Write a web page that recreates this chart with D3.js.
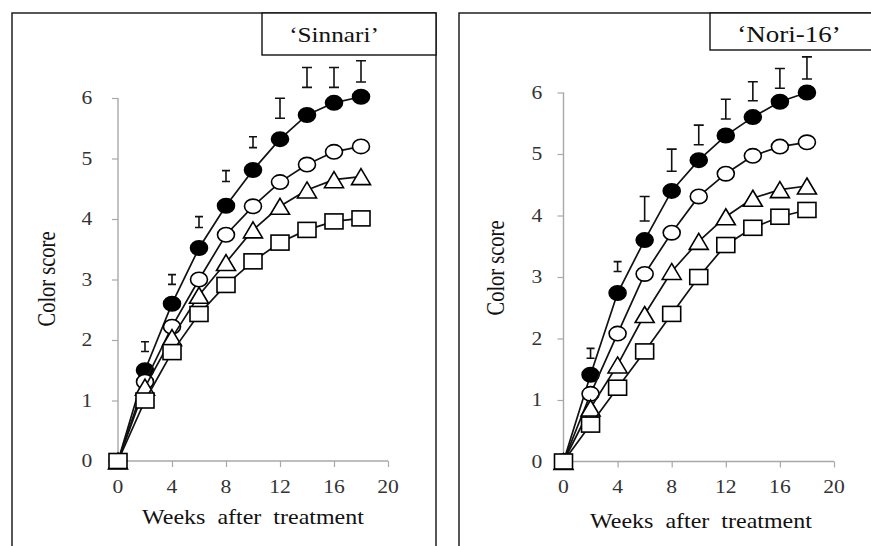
<!DOCTYPE html>
<html><head><meta charset="utf-8">
<script src="https://cdn.jsdelivr.net/npm/d3@7/dist/d3.min.js"></script>
<style>
html,body{margin:0;padding:0;background:#fff;}
svg{display:block;}
</style></head>
<body>
<svg id="chart" width="871" height="546" font-family="'Liberation Serif', 'Times New Roman', 'DejaVu Serif', serif"></svg>
<script>
// ---------------- data ----------------
const weeks = [0, 2, 4, 6, 8, 10, 12, 14, 16, 18];
const yTicks = [0, 1, 2, 3, 4, 5, 6];
const xTicks = [0, 4, 8, 12, 16, 20];
const panelNames = ["\u2018Sinnari\u2019", "\u2018Nori-16\u2019"];
const xTitle = "Weeks after treatment";
const yTitle = "Color score";

// 'Sinnari'
const sinFilled = [0, 1.50, 2.60, 3.52, 4.22, 4.81, 5.32, 5.72, 5.92, 6.02];
const sinOpen   = [0, 1.31, 2.22, 3.00, 3.74, 4.21, 4.61, 4.90, 5.11, 5.20];
const sinTri    = [0, 1.22, 2.04, 2.74, 3.28, 3.82, 4.21, 4.48, 4.65, 4.70];
const sinSq     = [0, 1.00, 1.80, 2.43, 2.91, 3.30, 3.61, 3.82, 3.96, 4.01];
const sinErrMid = [null, 1.89, 3.00, 3.95, 4.71, 5.27, 5.83, 6.34, 6.34, 6.44];
const sinErrHalf= [null, 0.08, 0.08, 0.09, 0.09, 0.09, 0.165, 0.165, 0.165, 0.175];

// 'Nori-16'
const norFilled = [0, 1.41, 2.74, 3.60, 4.40, 4.90, 5.30, 5.60, 5.85, 6.00];
const norOpen   = [0, 1.10, 2.08, 3.05, 3.72, 4.31, 4.68, 4.97, 5.12, 5.19];
const norTri    = [0, 0.87, 1.57, 2.39, 3.09, 3.58, 3.98, 4.28, 4.42, 4.48];
const norSq     = [0, 0.60, 1.20, 1.79, 2.40, 3.00, 3.52, 3.80, 3.98, 4.09];
const norErrMid = [null, 1.76, 3.17, 4.11, 4.90, 5.31, 5.73, 6.02, 6.23, 6.40];
const norErrHalf= [null, 0.08, 0.08, 0.20, 0.18, 0.16, 0.16, 0.155, 0.16, 0.18];

// ---------------- layout / style ----------------
const STRETCH = 1.2; // horizontal stretch of the original picture
const FONT = "'Liberation Serif', 'Times New Roman', 'DejaVu Serif', serif";
const panels = [
  { name: panelNames[0], series: [sinFilled, sinOpen, sinTri, sinSq], errMid: sinErrMid, errHalf: sinErrHalf,
    frame: {x0: 12, y0: 13, x1: 436, y1: 560},
    box: {x0: 262, y0: 13, x1: 436, y1: 55}, nameX: 334, nameY: 42, nameSize: 21,
    xr: [118, 388], yr: [461, 98], yLabX: 87, xLabY: 493, xTitleX: 253, xTitleY: 524, yTitleX: 55, yTitleY: 279 },
  { name: panelNames[1], series: [norFilled, norOpen, norTri, norSq], errMid: norErrMid, errHalf: norErrHalf,
    frame: {x0: 459, y0: 13, x1: 880, y1: 560},
    box: {x0: 710, y0: 13, x1: 880, y1: 50}, nameX: 789, nameY: 42, nameSize: 22.5,
    xr: [563.5, 834], yr: [461.5, 92.5], yLabX: 537, xLabY: 493, xTitleX: 701, xTitleY: 528, yTitleX: 504, yTitleY: 268 }
];
const markerTypes = ["filled", "open", "triangle", "square"];

const svg = d3.select("#chart");

function stretchedText(g, x, y, str, size, anchor, extraTransform) {
  return g.append("text")
    .attr("transform", `translate(${x},${y}) ${extraTransform || ""} scale(${STRETCH},1)`)
    .attr("text-anchor", anchor)
    .attr("font-family", FONT)
    .attr("font-size", size)
    .attr("fill", "#111")
    .text(str);
}

panels.forEach(p => {
  const g = svg.append("g");
  const x = d3.scaleLinear().domain([0, 20]).range(p.xr);
  const y = d3.scaleLinear().domain([0, 6]).range(p.yr);

  // frame
  g.append("rect").attr("x", p.frame.x0).attr("y", p.frame.y0)
    .attr("width", p.frame.x1 - p.frame.x0).attr("height", p.frame.y1 - p.frame.y0)
    .attr("fill", "none").attr("stroke", "#111").attr("stroke-width", 1.4);
  // name box
  g.append("rect").attr("x", p.box.x0).attr("y", p.box.y0)
    .attr("width", p.box.x1 - p.box.x0).attr("height", p.box.y1 - p.box.y0)
    .attr("fill", "#fff").attr("stroke", "#111").attr("stroke-width", 1.4);
  stretchedText(g, p.nameX, p.nameY, p.name, p.nameSize, "middle");

  // axes (lines & ticks via d3.axis, labels drawn stretched)
  const yAxis = g.append("g").attr("transform", `translate(${x(0)},0)`)
    .call(d3.axisLeft(y).tickValues(yTicks).tickSize(6).tickFormat(""));
  const xAxis = g.append("g").attr("transform", `translate(0,${y(0)})`)
    .call(d3.axisBottom(x).tickValues(xTicks).tickSize(6).tickFormat(""));
  [yAxis, xAxis].forEach(a => {
    a.select(".domain").attr("stroke", "#a8a8a8").attr("stroke-width", 1.4);
    a.selectAll(".tick line").attr("stroke", "#a8a8a8").attr("stroke-width", 1.2);
  });
  yAxis.select(".domain").attr("d", `M0,${y(0)}V${y(6)}`);
  xAxis.select(".domain").attr("d", `M${x(0)},0H${x(20)}`);

  yTicks.forEach(t => stretchedText(g, p.yLabX, y(t) + 6, String(t), 18, "middle").attr("fill", "#333"));
  xTicks.forEach(t => stretchedText(g, x(t), p.xLabY, String(t), 18, "middle").attr("fill", "#333"));

  stretchedText(g, p.xTitleX, p.xTitleY, xTitle, 20, "middle").attr("word-spacing", 5);
  g.append("text")
    .attr("transform", `translate(${p.yTitleX},${p.yTitleY}) scale(${STRETCH},1) rotate(-90)`)
    .attr("text-anchor", "middle").attr("font-family", FONT).attr("font-size", 20.5).attr("fill", "#111")
    .text(yTitle);

  // error bars (LSD)
  const eg = g.append("g").attr("stroke", "#111").attr("stroke-width", 1.6).attr("fill", "none");
  weeks.forEach((w, i) => {
    if (p.errMid[i] == null) return;
    const top = y(p.errMid[i] + p.errHalf[i]);
    const bot = y(p.errMid[i] - p.errHalf[i]);
    const cw = p.errHalf[i] > 0.12 ? 5 : 4;
    const cx = x(w);
    eg.append("path").attr("d", `M${cx},${top}V${bot}M${cx - cw},${top}H${cx + cw}M${cx - cw},${bot}H${cx + cw}`);
  });

  // series lines + markers
  const line = d3.line().x((d, i) => x(weeks[i])).y(d => y(d));
  p.series.forEach((vals, si) => {
    const type = markerTypes[si];
    g.append("path").attr("d", line(vals)).attr("fill", "none")
      .attr("stroke", "#111").attr("stroke-width", 1.7);
    const mg = g.append("g");
    vals.forEach((v, i) => {
      const cx = x(weeks[i]), cy = y(v);
      if (type === "filled" || type === "open") {
        mg.append("ellipse").attr("cx", cx).attr("cy", cy).attr("rx", 8.5).attr("ry", 7.2)
          .attr("fill", type === "filled" ? "#000" : "#fff").attr("stroke", "#000").attr("stroke-width", 1.6);
      } else if (type === "triangle") {
        const hw = 9.5, hh = 8;
        mg.append("path").attr("d", `M${cx},${cy - hh}L${cx + hw},${cy + hh}L${cx - hw},${cy + hh}Z`)
          .attr("fill", "#fff").attr("stroke", "#000").attr("stroke-width", 1.6);
      } else {
        const hw = 9, hh = 7.5;
        mg.append("rect").attr("x", cx - hw).attr("y", cy - hh).attr("width", 2 * hw).attr("height", 2 * hh)
          .attr("fill", "#fff").attr("stroke", "#000").attr("stroke-width", 1.6);
      }
    });
  });
});
</script>
</body></html>
